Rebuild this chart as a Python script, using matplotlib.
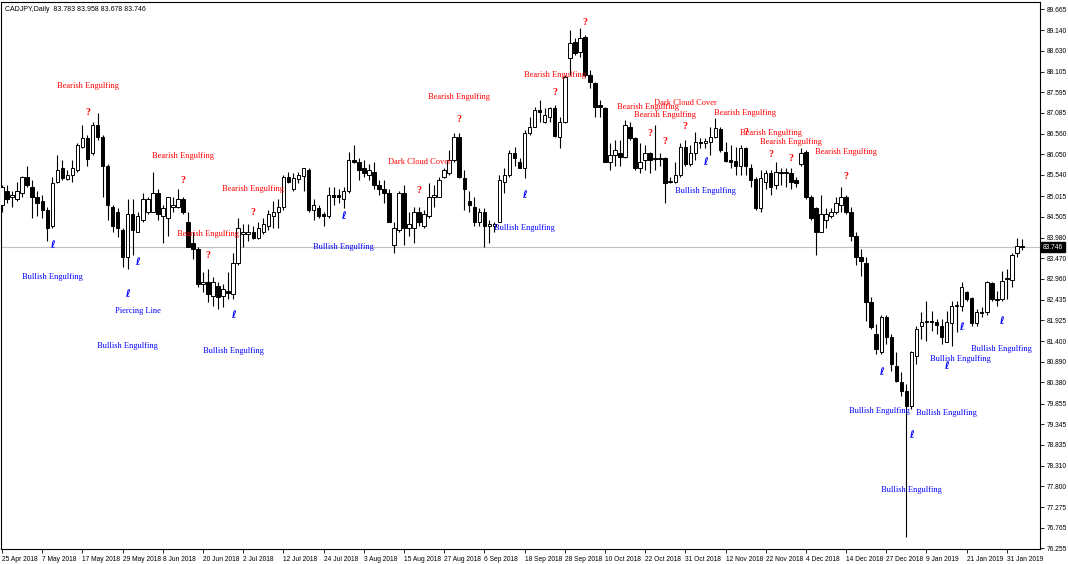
import numpy as np
import matplotlib.pyplot as plt

header = "CADJPY,Daily  83.783 83.958 83.678 83.746"

opens = [84.80, 85.15, 84.98, 84.93, 85.10, 85.50, 85.25, 85.00, 84.88, 84.68,
         84.26, 85.37, 85.72, 85.45, 85.55, 85.67, 86.24, 86.46, 86.09, 86.79,
         86.49, 85.75, 84.75, 84.63, 84.18, 83.51, 84.56, 84.13, 84.43, 84.63,
         84.61, 85.08, 84.51, 84.48, 84.75, 84.75, 84.95, 84.38, 83.86, 83.69,
         82.82, 82.89, 82.52, 82.77, 82.52, 82.65, 82.57, 83.36, 84.08, 84.08,
         84.11, 83.98, 84.13, 84.26, 84.51, 84.61, 84.75, 85.50, 85.18, 85.45,
         85.52, 85.67, 84.68, 84.73, 84.56, 84.51, 85.05, 85.05, 84.93, 85.13,
         85.92, 85.87, 85.72, 85.55, 85.62, 85.30, 85.18, 85.10, 83.81, 84.18,
         85.10, 84.23, 84.23, 84.63, 84.26, 84.51, 85.00, 85.00, 85.50, 85.60,
         85.92, 86.49, 85.47, 84.88, 84.75, 84.38, 84.61, 84.26, 84.26, 84.38,
         85.37, 85.55, 86.09, 85.87, 85.72, 86.59, 86.74, 87.16, 86.86, 86.98,
         87.21, 86.49, 86.86, 88.45, 88.85, 88.60, 88.97, 88.03, 87.83, 87.28,
         87.21, 85.87, 86.04, 86.09, 85.99, 86.74, 86.46, 85.72, 85.92, 86.09,
         85.95, 85.97, 85.97, 85.37, 85.37, 85.55, 86.24, 85.80, 86.09, 86.36,
         86.34, 86.36, 86.49, 86.69, 86.12, 85.92, 85.89, 85.77, 86.22, 85.70,
         85.45, 84.73, 85.37, 85.60, 85.30, 85.62, 85.60, 85.60, 85.42, 85.80,
         86.12, 85.00, 84.73, 84.13, 84.43, 84.53, 84.63, 84.80, 85.00, 84.63,
         84.01, 83.51, 83.36, 82.37, 81.58, 81.13, 82.00, 81.50, 80.79, 80.39,
         80.17, 79.79, 81.03, 81.78, 81.88, 81.90, 81.88, 81.78, 81.38, 81.87,
         82.27, 82.27, 82.62, 82.47, 81.87, 82.12, 82.12, 82.85, 82.45, 82.45,
         82.95, 82.94, 83.60, 83.783]
highs = [85.30, 85.30, 85.13, 85.37, 85.52, 85.75, 85.42, 85.13, 85.05, 84.75,
         85.50, 86.04, 85.92, 85.67, 85.92, 86.34, 86.79, 86.54, 86.86, 87.09,
         86.54, 85.80, 84.80, 84.73, 84.23, 84.93, 84.93, 84.63, 85.10, 84.98,
         85.62, 85.18, 84.80, 85.00, 85.00, 85.18, 85.00, 84.61, 84.11, 83.76,
         83.12, 83.19, 82.99, 82.89, 82.82, 83.12, 83.61, 84.48, 84.31, 84.31,
         84.26, 84.38, 84.48, 84.68, 84.88, 84.93, 85.55, 85.62, 85.60, 85.62,
         85.72, 85.72, 84.93, 84.80, 84.63, 85.23, 85.23, 85.18, 85.25, 86.12,
         86.29, 85.97, 85.92, 85.80, 85.87, 85.42, 85.42, 85.18, 84.38, 85.13,
         85.30, 84.61, 84.75, 84.75, 84.68, 85.35, 85.30, 85.50, 85.72, 86.17,
         86.59, 86.59, 85.67, 85.13, 85.00, 84.73, 84.73, 84.43, 84.38, 85.55,
         85.72, 86.17, 86.24, 85.97, 86.66, 86.99, 87.23, 87.41, 87.21, 87.23,
         87.28, 86.99, 88.03, 89.14, 88.95, 89.19, 89.02, 88.15, 87.85, 87.41,
         87.23, 86.34, 86.42, 86.42, 86.91, 86.86, 86.49, 86.34, 86.29, 86.12,
         86.79, 86.09, 85.99, 85.50, 85.87, 86.34, 86.42, 86.29, 86.61, 86.46,
         86.46, 86.74, 86.96, 86.74, 86.36, 86.29, 86.24, 86.29, 86.24, 85.80,
         85.50, 85.67, 85.67, 85.67, 85.87, 85.72, 85.72, 85.72, 85.50, 86.22,
         86.17, 85.05, 84.75, 85.05, 84.73, 84.73, 84.98, 85.23, 85.05, 84.75,
         84.11, 83.69, 83.49, 82.50, 81.83, 82.07, 82.07, 81.58, 81.13, 80.64,
         80.34, 81.16, 81.78, 82.12, 82.40, 82.15, 81.95, 81.95, 82.15, 82.40,
         82.40, 82.87, 82.65, 82.50, 82.20, 82.25, 82.90, 82.87, 82.65, 83.14,
         83.19, 83.61, 83.98, 83.958]
lows = [84.63, 84.85, 84.75, 84.88, 85.00, 85.23, 84.48, 84.51, 84.48, 83.89,
        84.23, 85.35, 85.42, 85.42, 85.37, 85.62, 86.21, 85.75, 86.04, 86.42,
        84.98, 84.43, 84.11, 83.99, 83.24, 83.19, 83.56, 84.11, 84.38, 84.56,
        84.61, 84.43, 83.86, 84.01, 84.63, 84.73, 84.56, 83.74, 83.46, 82.75,
        82.62, 82.37, 82.27, 82.20, 82.25, 82.45, 82.45, 83.31, 83.76, 83.89,
        83.94, 83.94, 84.06, 84.18, 84.23, 84.23, 84.68, 85.35, 85.13, 85.35,
        85.13, 84.63, 84.43, 84.48, 84.26, 84.48, 84.80, 84.85, 84.73, 85.10,
        85.84, 85.42, 85.50, 85.42, 85.18, 85.05, 84.85, 84.38, 83.61, 84.13,
        83.81, 84.01, 83.86, 84.26, 84.23, 84.48, 84.75, 84.98, 85.47, 85.55,
        85.87, 85.47, 84.68, 84.63, 84.26, 84.26, 83.76, 83.86, 84.11, 84.36,
        85.10, 85.50, 85.75, 85.72, 85.47, 86.54, 86.74, 86.86, 86.83, 86.86,
        86.49, 86.22, 86.83, 88.03, 88.52, 88.47, 87.98, 87.70, 86.98, 86.98,
        85.87, 85.67, 85.75, 85.75, 85.97, 86.42, 85.67, 85.60, 85.67, 85.60,
        85.67, 85.75, 84.85, 85.35, 85.35, 85.50, 85.75, 85.75, 85.92, 86.21,
        86.21, 86.04, 86.46, 86.12, 85.87, 85.72, 85.55, 85.55, 85.55, 85.25,
        84.68, 84.61, 85.18, 85.05, 85.18, 85.30, 85.25, 85.18, 85.23, 85.75,
        84.93, 84.43, 83.56, 84.11, 84.23, 84.48, 84.56, 84.63, 84.56, 83.89,
        83.31, 83.02, 81.90, 81.70, 81.08, 81.08, 81.33, 80.66, 80.39, 80.05,
        76.55, 79.72, 80.84, 81.46, 81.40, 81.65, 81.58, 81.33, 81.38, 81.28,
        81.63, 82.15, 82.40, 81.78, 81.78, 82.00, 82.07, 82.40, 82.27, 82.40,
        82.45, 82.75, 83.51, 83.678]
closes = [85.23, 84.95, 85.05, 85.13, 85.50, 85.30, 84.98, 84.85, 84.68, 84.23,
          85.35, 85.67, 85.47, 85.55, 85.72, 86.29, 86.46, 85.94, 86.79, 86.49,
          85.75, 84.80, 84.26, 84.23, 83.51, 84.56, 84.18, 84.51, 84.93, 84.93,
          85.10, 84.56, 84.73, 84.98, 84.78, 84.95, 84.61, 83.76, 83.69, 82.82,
          82.89, 82.57, 82.87, 82.50, 82.70, 82.60, 83.36, 84.23, 84.11, 84.13,
          83.98, 84.21, 84.31, 84.56, 84.61, 84.75, 85.50, 85.37, 85.47, 85.55,
          85.70, 84.68, 84.80, 84.51, 84.51, 85.05, 85.00, 84.98, 85.13, 85.92,
          85.85, 85.67, 85.60, 85.67, 85.30, 85.18, 85.10, 84.38, 84.23, 85.10,
          84.23, 84.31, 84.61, 84.36, 84.56, 85.00, 85.05, 85.42, 85.67, 85.92,
          86.49, 85.50, 85.18, 84.80, 84.38, 84.63, 84.26, 84.31, 84.31, 85.42,
          85.55, 86.09, 85.97, 85.72, 86.59, 86.74, 87.16, 87.11, 87.04, 87.21,
          86.51, 86.86, 87.98, 88.82, 88.57, 88.95, 88.03, 87.85, 87.23, 87.23,
          85.87, 86.04, 86.17, 85.99, 86.79, 86.46, 85.72, 85.87, 86.09, 85.92,
          85.93, 85.94, 85.35, 85.38, 85.55, 86.24, 85.80, 86.09, 86.36, 86.34,
          86.39, 86.49, 86.71, 86.17, 85.89, 85.87, 85.77, 86.22, 85.75, 85.42,
          84.73, 85.47, 85.60, 85.25, 85.62, 85.60, 85.62, 85.37, 85.35, 86.09,
          84.98, 84.48, 84.13, 84.56, 84.56, 84.63, 84.85, 85.00, 84.61, 84.01,
          83.51, 83.39, 82.37, 81.75, 81.21, 82.00, 81.50, 80.84, 80.42, 80.17,
          79.79, 81.13, 81.70, 81.88, 81.90, 81.88, 81.80, 81.50, 81.88, 82.27,
          82.30, 82.75, 82.45, 81.87, 82.12, 82.10, 82.87, 82.45, 82.42, 82.90,
          82.97, 83.56, 83.78, 83.746]

date_labels = ["25 Apr 2018", "7 May 2018", "17 May 2018", "29 May 2018", "8 Jun 2018",
               "20 Jun 2018", "2 Jul 2018", "12 Jul 2018", "24 Jul 2018", "3 Aug 2018",
               "15 Aug 2018", "27 Aug 2018", "6 Sep 2018", "18 Sep 2018", "28 Sep 2018",
               "10 Oct 2018", "22 Oct 2018", "31 Oct 2018", "12 Nov 2018", "22 Nov 2018",
               "4 Dec 2018", "14 Dec 2018", "27 Dec 2018", "9 Jan 2019", "21 Jan 2019",
               "31 Jan 2019"]
price_ticks = [89.665, 89.140, 88.630, 88.105, 87.595, 87.085, 86.560, 86.050, 85.540,
               85.015, 84.505, 83.980, 83.470, 82.960, 82.435, 81.925, 81.400, 80.890,
               80.380, 79.855, 79.345, 78.835, 78.310, 77.800, 77.275, 76.765, 76.255]
last_price = 83.746

# pattern signals: (bar, price)
bear_marks = [(17, 87.09), (36, 85.40), (41, 83.54), (50, 84.61), (83, 85.15),
              (91, 86.91), (110, 87.58), (116, 89.34), (129, 86.57), (132, 86.37),
              (136, 86.74), (148, 86.59), (153, 86.04), (157, 85.94), (168, 85.50)]
bear_texts = [("Bearish Engulfing", 17, 87.76), ("Bearish Engulfing", 36, 86.02),
              ("Bearish Engulfing", 41, 84.08), ("Bearish Engulfing", 50, 85.18),
              ("Dark Cloud Cover", 83, 85.85), ("Bearish Engulfing", 91, 87.48),
              ("Bearish Engulfing", 110, 88.03), ("Bearish Engulfing", 128.6, 87.23),
              ("Dark Cloud Cover", 136.1, 87.33), ("Bearish Engulfing", 131.9, 87.04),
              ("Bearish Engulfing", 147.9, 87.09), ("Bearish Engulfing", 153, 86.59),
              ("Bearish Engulfing", 157, 86.37), ("Bearish Engulfing", 168, 86.12)]
bull_marks = [(10, 83.79), (27, 83.37), (25, 82.57), (46, 82.05), (68, 84.53),
              (104, 85.05), (140, 85.85), (175, 80.64), (181, 79.07), (188, 80.79),
              (191, 81.75), (199, 81.90)]
bull_texts = [("Bullish Engulfing", 10, 82.99), ("Piercing Line", 27, 82.15),
              ("Bullish Engulfing", 25, 81.28), ("Bullish Engulfing", 46, 81.16),
              ("Bullish Engulfing", 68, 83.76), ("Bullish Engulfing", 104, 84.23),
              ("Bullish Engulfing", 140, 85.13), ("Bullish Engulfing", 174.7, 79.67),
              ("Bullish Engulfing", 187.9, 79.62), ("Bullish Engulfing", 181, 77.71),
              ("Bullish Engulfing", 190.8, 80.96), ("Bullish Engulfing", 199, 81.21)]

o = np.array(opens)
h = np.array(highs)
l = np.array(lows)
c = np.array(closes)
x = np.arange(len(o))
up = c >= o

fig = plt.figure(figsize=(10.68, 5.64), dpi=100)
ax = fig.add_axes([0.001, 0.0266, 0.9728, 0.9699])

ax.axhline(last_price, color="#c0c0c0", linewidth=0.8, zorder=1)
ax.vlines(x, l, h, color="black", linewidth=0.8, zorder=2)
ax.bar(x[up], (c - o)[up], bottom=o[up], width=0.7, color="white",
       edgecolor="black", linewidth=0.7, zorder=3)
ax.bar(x[~up], (o - c)[~up], bottom=c[~up], width=0.7, color="black",
       edgecolor="black", linewidth=0.7, zorder=3)

for i, p in bear_marks:
    ax.text(i, p, "?", color="red", fontsize=7, fontweight="bold",
            family="Liberation Serif", ha="center", va="center", zorder=4)
for s, i, p in bear_texts:
    ax.text(i, p, s, color="red", fontsize=6, family="Liberation Serif",
            ha="center", va="center", zorder=4)
for i, p in bull_marks:
    ax.text(i, p, "ℓ", color="blue", fontsize=7, fontweight="bold",
            family=["DejaVu Sans"], ha="center", va="center", zorder=4)
for s, i, p in bull_texts:
    ax.text(i, p, s, color="blue", fontsize=6, family="Liberation Serif",
            ha="center", va="center", zorder=4)

ax.set_xlim(-0.2, 206.6)
ax.set_ylim(76.24, 89.84)

ax.yaxis.tick_right()
ax.set_yticks(price_ticks)
ax.set_yticklabels([f"{v:.3f}" for v in price_ticks], family="Liberation Sans")
ax.set_xticks(np.arange(len(date_labels)) * 8)
ax.set_xticklabels(date_labels, family="Liberation Sans", ha="left")
ax.tick_params(axis="both", labelsize=4.8, length=3, width=0.6, pad=2, color="black")

ax.text(1.003, last_price, f"{last_price:.3f}", transform=ax.get_yaxis_transform(),
        color="white", fontsize=4.8, family="Liberation Sans", ha="left", va="center",
        bbox=dict(facecolor="black", edgecolor="black", pad=1.2), clip_on=False)

ax.text(0.004, 0.992, header, transform=ax.transAxes, fontsize=5,
        family="Liberation Sans", ha="left", va="top")

for sp in ax.spines.values():
    sp.set_linewidth(0.8)

fig.savefig("out.png", dpi=100)
